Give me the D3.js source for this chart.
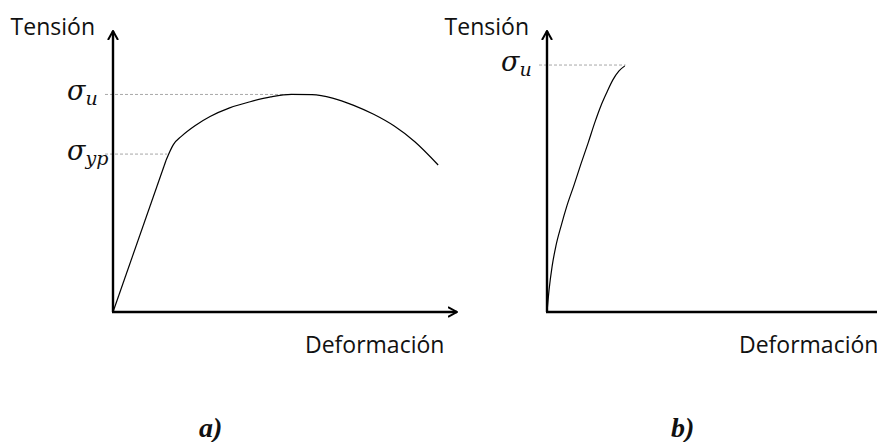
<!DOCTYPE html>
<html>
<head>
<meta charset="utf-8">
<script src="https://cdn.jsdelivr.net/npm/d3@7"></script>
<style>
  body { margin: 0; background: #fff; }
  .lbl { font-family: "Open Sans", Lato, sans-serif; font-size: 23px; fill: #111; }
  .sym { font-family: "DejaVu Serif", "Liberation Serif", serif; font-style: italic; fill: #111; }
  .cap { font-family: "Liberation Serif", serif; font-style: italic; font-weight: bold; font-size: 28px; fill: #111; }
</style>
</head>
<body>
<div id="chart"></div>
<script>
// panel a) ductile material: strain (%) vs stress (% of axis height)
var strainElasticA = [0, 15.5],
    stressElasticA = [0, 54.3];
var strainPlasticA = [15.5, 17.6, 20, 24, 28.3, 34, 40, 46, 52, 58, 64, 70, 76, 82, 88, 94.8],
    stressPlasticA = [54.3, 59.8, 62.8, 66.6, 69.8, 72.9, 75.1, 76.8, 77.7, 77.6, 76.4, 73.9, 70.6, 66.4, 60.8, 52.5];
var levelsA = [{sub: "u", value: 77.7, toStrain: 52},
               {sub: "yp", value: 56.4, toStrain: 15.8}];

// panel b) brittle material
var strainB = [0, 0.6, 1.5, 2.6, 4.1, 5.8, 7.9, 9.9, 12.0, 14.0, 15.7, 17.5, 19.2, 21.0, 22.7],
    stressB = [0, 7.9, 16.4, 23.6, 30.7, 37.9, 45.4, 52.9, 60.4, 67.9, 73.6, 78.6, 82.9, 86.1, 87.9];
var levelsB = [{sub: "u", value: 88.2, toStrain: 22.9}];

var width = 877, height = 442;

var svg = d3.select("#chart").append("svg")
            .attr("width", width)
            .attr("height", height)
            .style("background", "#fff");

// open arrowhead used on both axes
svg.append("defs").append("marker")
   .attr("id", "arrow")
   .attr("markerUnits", "userSpaceOnUse")
   .attr("viewBox", "0 -6 10 12")
   .attr("refX", 9)
   .attr("refY", 0)
   .attr("markerWidth", 10)
   .attr("markerHeight", 12)
   .attr("orient", "auto")
   .append("path")
   .attr("d", "M0,-5L9,0L0,5")
   .style("fill", "none")
   .style("stroke", "#000")
   .style("stroke-width", 2);

function panel(opts) {
  var x = d3.scaleLinear().domain([0, 100]).range([opts.x0, opts.x0 + 343]);
  var y = d3.scaleLinear().domain([0, 100]).range([312, 32]);
  var g = svg.append("g");

  // dashed reference levels
  g.selectAll(".level")
   .data(opts.levels)
   .enter()
   .append("line")
   .attr("x1", x(0) - 8)
   .attr("x2", function(d) { return x(d.toStrain); })
   .attr("y1", function(d) { return y(d.value); })
   .attr("y2", function(d) { return y(d.value); })
   .style("stroke", "#a8a8a8")
   .style("stroke-width", 1)
   .style("stroke-dasharray", "3,2");

  // curves
  opts.series.forEach(function(s) {
    var pts = s.xs.map(function(v, i) { return [v, s.ys[i]]; });
    g.append("path")
     .datum(pts)
     .attr("d", d3.line()
                  .x(function(d) { return x(d[0]); })
                  .y(function(d) { return y(d[1]); })
                  .curve(s.curve))
     .style("fill", "none")
     .style("stroke", "#000")
     .style("stroke-width", 1.2);
  });

  // axes, no ticks: just the arrowed domain lines
  var xa = g.append("g")
            .attr("transform", "translate(0," + y(0) + ")")
            .call(d3.axisBottom(x).tickValues([]).tickSizeOuter(0));
  var ya = g.append("g")
            .attr("transform", "translate(" + x(0) + ",0)")
            .call(d3.axisLeft(y).tickValues([]).tickSizeOuter(0));
  [xa, ya].forEach(function(a) {
    a.select(".domain")
     .style("stroke", "#000")
     .style("stroke-width", 2.4)
     .attr("marker-end", "url(#arrow)");
  });
  // point the domains away from the origin so the arrows sit at the far ends
  ya.select(".domain").attr("d", "M0," + y(0) + "V" + (y(100) - 1));
  xa.select(".domain").attr("d", "M" + (x(0) - 1) + ",0H" + (x(100) + 1));

  // sigma labels
  var sl = g.selectAll(".sig")
            .data(opts.levels)
            .enter()
            .append("text")
            .attr("class", "sym")
            .attr("x", x(0) - 46)
            .attr("y", function(d) { return y(d.value) + 6; });
  sl.append("tspan").style("font-size", "27px").text("σ");
  sl.append("tspan").style("font-size", "19px").attr("dy", 5)
    .text(function(d) { return d.sub; });

  g.append("text").attr("class", "lbl")
   .attr("text-anchor", "end")
   .attr("x", x(0) - 18).attr("y", 35)
   .text("Tensión");
  g.append("text").attr("class", "lbl")
   .attr("x", x(0) + 192).attr("y", 353)
   .text("Deformación");
  g.append("text").attr("class", "cap")
   .attr("x", opts.capX).attr("y", 437)
   .text(opts.cap);
}

panel({x0: 113, levels: levelsA, cap: "a)", capX: 199,
       series: [{xs: strainElasticA, ys: stressElasticA, curve: d3.curveLinear},
                {xs: strainPlasticA, ys: stressPlasticA, curve: d3.curveMonotoneX}]});
panel({x0: 547, levels: levelsB, cap: "b)", capX: 671,
       series: [{xs: strainB, ys: stressB, curve: d3.curveMonotoneX}]});
</script>
</body>
</html>
